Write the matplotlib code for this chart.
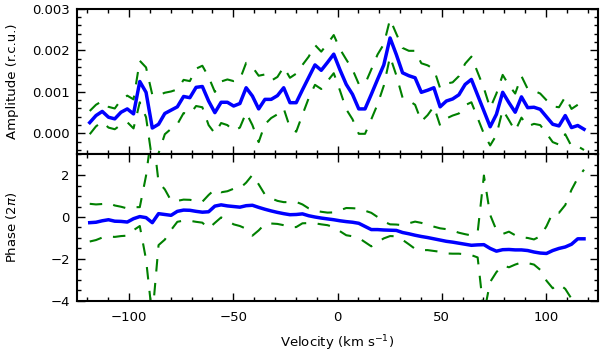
import numpy as np
import matplotlib
matplotlib.use("Agg")
import matplotlib.pyplot as plt
from matplotlib.ticker import MultipleLocator, FormatStrFormatter

# velocity grid (km/s)
velocity = [-118.8, -115.8, -112.8, -109.8, -106.8, -103.8, -100.8, -97.8, -94.8, -91.8,
            -88.8, -85.8, -82.8, -79.8, -76.8, -73.8, -70.8, -67.8, -64.8, -61.8,
            -58.8, -55.8, -52.8, -49.8, -46.8, -43.8, -40.8, -37.8, -34.8, -31.8,
            -28.8, -25.8, -22.8, -19.8, -16.8, -13.8, -10.8, -7.8, -4.8, -1.8,
            1.2, 4.2, 7.2, 10.2, 13.2, 16.2, 19.2, 22.2, 25.2, 28.2,
            31.2, 34.2, 37.2, 40.2, 43.2, 46.2, 49.2, 52.2, 55.2, 58.2,
            61.2, 64.2, 67.2, 70.2, 73.2, 76.2, 79.2, 82.2, 85.2, 88.2,
            91.2, 94.2, 97.2, 100.2, 103.2, 106.2, 109.2, 112.2, 115.2, 118.2]

# amplitude, in units of 1e-3 r.c.u.
amplitude_milli = [0.26, 0.43, 0.53, 0.39, 0.35, 0.51, 0.59, 0.47, 1.25, 0.99,
                   0.13, 0.22, 0.48, 0.56, 0.64, 0.89, 0.86, 1.11, 1.13, 0.78,
                   0.50, 0.75, 0.75, 0.66, 0.72, 1.10, 0.90, 0.59, 0.82, 0.82,
                   0.91, 1.10, 0.74, 0.74, 1.05, 1.35, 1.65, 1.52, 1.71, 1.91,
                   1.53, 1.18, 0.94, 0.59, 0.59, 0.94, 1.30, 1.65, 2.30, 1.90,
                   1.46, 1.39, 1.34, 0.99, 1.04, 1.10, 0.64, 0.78, 0.83, 0.93,
                   1.18, 1.30, 0.92, 0.54, 0.16, 0.46, 0.99, 0.74, 0.51, 0.88,
                   0.62, 0.63, 0.58, 0.40, 0.22, 0.18, 0.43, 0.14, 0.19, 0.10]

amplitude_err_milli = [0.28, 0.26, 0.25, 0.25, 0.25, 0.30, 0.32, 0.35, 0.50, 0.60,
                       0.80, 0.70, 0.50, 0.45, 0.42, 0.40, 0.40, 0.45, 0.50, 0.58,
                       0.50, 0.50, 0.55, 0.60, 0.58, 0.60, 0.70, 0.80, 0.60, 0.45,
                       0.45, 0.50, 0.60, 0.70, 0.60, 0.50, 0.48, 0.45, 0.45, 0.46,
                       0.50, 0.60, 0.60, 0.60, 0.60, 0.60, 0.60, 0.50, 0.45, 0.50,
                       0.60, 0.60, 0.65, 0.70, 0.60, 0.45, 0.45, 0.42, 0.40, 0.45,
                       0.50, 0.55, 0.55, 0.55, 0.45, 0.50, 0.42, 0.42, 0.45, 0.50,
                       0.45, 0.40, 0.38, 0.40, 0.43, 0.45, 0.45, 0.45, 0.50, 0.50]

# phase, in units of 2 pi
phase = [-0.27, -0.25, -0.18, -0.13, -0.20, -0.21, -0.24, -0.08, 0.02, -0.03,
         -0.27, 0.16, 0.12, 0.08, 0.27, 0.33, 0.32, 0.27, 0.23, 0.25,
         0.52, 0.58, 0.53, 0.50, 0.47, 0.54, 0.56, 0.46, 0.37, 0.29,
         0.22, 0.16, 0.11, 0.12, 0.15, 0.06, 0.00, -0.05, -0.09, -0.13,
         -0.18, -0.22, -0.25, -0.30, -0.45, -0.60, -0.60, -0.62, -0.63, -0.64,
         -0.74, -0.80, -0.87, -0.93, -0.98, -1.04, -1.10, -1.16, -1.20, -1.25,
         -1.30, -1.35, -1.33, -1.32, -1.50, -1.63, -1.56, -1.55, -1.57, -1.57,
         -1.60, -1.67, -1.72, -1.74, -1.60, -1.50, -1.43, -1.30, -1.04, -1.04]

phase_err = [0.90, 0.85, 0.80, 0.80, 0.75, 0.70, 0.65, 0.55, 0.45, 2.00,
             4.50, 1.50, 1.20, 0.70, 0.50, 0.50, 0.50, 0.50, 0.50, 0.80,
             0.80, 0.60, 0.70, 0.85, 0.90, 1.10, 1.45, 1.10, 0.70, 0.60,
             0.55, 0.55, 0.60, 0.60, 0.45, 0.35, 0.30, 0.30, 0.30, 0.35,
             0.50, 0.65, 0.67, 0.70, 0.75, 0.80, 0.60, 0.40, 0.28, 0.28,
             0.35, 0.50, 0.65, 0.65, 0.60, 0.58, 0.56, 0.58, 0.55, 0.50,
             0.48, 0.47, 0.60, 3.30, 1.60, 1.00, 0.75, 0.85, 0.70, 0.60,
             0.60, 0.60, 0.80, 1.30, 1.80, 1.70, 2.00, 2.60, 2.90, 3.30]


def style_axis(ax):
    for s in ax.spines.values():
        s.set_linewidth(1.5)
    ax.tick_params(which="both", direction="in", top=True, right=True,
                   labelsize=9.5, width=1)
    ax.tick_params(which="major", length=6)
    ax.tick_params(which="minor", length=3)
    ax.tick_params(axis="x", pad=7)
    ax.tick_params(axis="y", pad=5)
    ax.xaxis.set_major_locator(MultipleLocator(50))
    ax.xaxis.set_minor_locator(MultipleLocator(10))


v = np.array(velocity)
amp = np.array(amplitude_milli) * 1e-3
amp_err = np.array(amplitude_err_milli) * 1e-3
ph = np.array(phase)
ph_err = np.array(phase_err)

fig = plt.figure(figsize=(6.0, 3.56), dpi=100)
ax1 = fig.add_axes([0.128, 0.567, 0.869, 0.408])
ax2 = fig.add_axes([0.128, 0.155, 0.869, 0.412], sharex=ax1)

green = (0, 0.5, 0)
dash = dict(color=green, lw=1.5, dashes=(6, 5.5))

ax1.plot(v, amp + amp_err, **dash)
ax1.plot(v, amp - amp_err, **dash)
ax1.plot(v, amp, color="b", lw=2.5)
ax1.set_ylim(-0.0005, 0.003)
ax1.yaxis.set_major_locator(MultipleLocator(0.001))
ax1.yaxis.set_minor_locator(MultipleLocator(0.0002))
ax1.yaxis.set_major_formatter(FormatStrFormatter("%.3f"))
ax1.set_ylabel("Amplitude (r.c.u.)", fontsize=9.5)
style_axis(ax1)
ax1.tick_params(labelbottom=False)

ax2.plot(v, ph + ph_err, **dash)
ax2.plot(v, ph - ph_err, **dash)
ax2.plot(v, ph, color="b", lw=2.5)
ax2.set_ylim(-4, 3)
ax2.set_yticks([-4, -2, 0, 2])
ax2.yaxis.set_minor_locator(MultipleLocator(0.5))
ax2.set_ylabel(r"Phase (2$\pi$)", fontsize=9.5)
ax2.set_xlabel(r"Velocity (km s$^{-1}$)", fontsize=9.5, labelpad=7)
style_axis(ax2)
ax2.set_xlim(-125, 125)

ax1.yaxis.set_label_coords(-0.11, 0.5)
ax2.yaxis.set_label_coords(-0.11, 0.5)

fig.savefig("out.png", dpi=100)
